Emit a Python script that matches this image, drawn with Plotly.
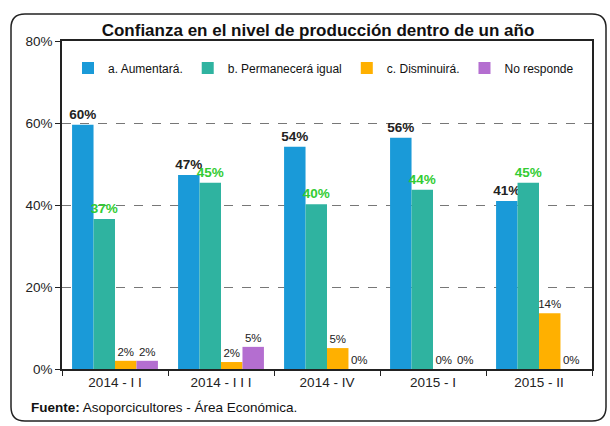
import plotly.graph_objects as go

categories = ["2014 - I I", "2014 - I I I", "2014 - IV", "2015 - I", "2015 - II"]
aumentara = [59.6, 47.3, 54.2, 56.4, 41.0]
permanecera = [36.6, 45.4, 40.2, 43.7, 45.4]
disminuira = [2.0, 1.7, 5.1, 0.0, 13.6]
no_responde = [2.0, 5.4, 0.0, 0.0, 0.0]
series_names = ["a. Aumentará.", "b. Permanecerá igual", "c. Disminuirá.", "No responde"]

W, H = 610, 426
L, R, T, B = 62, 18, 41, 57
pw, ph = W - L - R, H - T - B

def px2x(px):
    return (px - L) / pw

def py2y(py):
    return (H - B - py) / ph

fig = go.Figure()
specs = [
    (aumentara, series_names[0], "#1a9ad8", dict(size=13.5, color="#222222", family="Liberation Sans"), True),
    (permanecera, series_names[1], "#2fb3a0", dict(size=13.5, color="#33cc33", family="Liberation Sans"), True),
    (disminuira, series_names[2], "#ffb000", dict(size=11.5, color="#222222", family="Liberation Sans"), False),
    (no_responde, series_names[3], "#b46ed0", dict(size=11.5, color="#222222", family="Liberation Sans"), False),
]
for vals, name, color, tfont, bold in specs:
    tmpl = "<b>%{y:.0f}%</b>" if bold else "%{y:.0f}%"
    fig.add_trace(go.Bar(
        x=categories, y=vals, name=name,
        marker=dict(color=color, line=dict(width=0)),
        texttemplate=tmpl, textposition="outside", textfont=tfont,
        constraintext="none", cliponaxis=False,
    ))

# outer rounded border
x0, x1 = px2x(11), px2x(606)
y0, y1 = py2y(421), py2y(14)
rx, ry = 14 / pw, 14 / ph
path = (f"M {x0+rx},{y1} L {x1-rx},{y1} Q {x1},{y1} {x1},{y1-ry} "
        f"L {x1},{y0+ry} Q {x1},{y0} {x1-rx},{y0} L {x0+rx},{y0} "
        f"Q {x0},{y0} {x0},{y0+ry} L {x0},{y1-ry} Q {x0},{y1} {x0+rx},{y1} Z")
fig.add_shape(type="path", path=path, xref="paper", yref="paper",
              line=dict(color="#222222", width=1.5), layer="below")

fig.add_annotation(
    text="<b>Fuente:</b> Asoporcicultores - Área Económica.",
    x=px2x(29), y=py2y(407), xref="paper", yref="paper",
    xanchor="left", yanchor="middle", showarrow=False,
    font=dict(size=13.5, color="#111111", family="Liberation Sans"),
)

fig.update_layout(
    width=W, height=H,
    margin=dict(l=L, r=R, t=T, b=B, autoexpand=False),
    paper_bgcolor="white", plot_bgcolor="white",
    barmode="group", bargap=0.19, bargroupgap=0,
    title=dict(text="<b>Confianza en el nivel de producción dentro de un año</b>",
               x=318 / W, xanchor="center", y=1 - 30 / H, yanchor="middle",
               yref="container",
               font=dict(size=17, color="#111111", family="Liberation Sans")),
    legend=dict(orientation="h", x=px2x(68), y=py2y(68), xanchor="left", yanchor="middle",
                font=dict(size=12, color="#111111", family="Liberation Sans"),
                bgcolor="rgba(0,0,0,0)", itemwidth=30, tracegroupgap=0),
    font=dict(family="Liberation Sans", color="#222222"),
    showlegend=True,
)
fig.update_xaxes(
    showline=True, linecolor="#222222", linewidth=1.5, mirror=True,
    ticks="outside", tickson="boundaries", ticklen=5, tickcolor="#222222",
    tickfont=dict(size=13.5, color="#222222"), showgrid=False,
)
fig.update_yaxes(
    range=[0, 80], dtick=20, ticksuffix="%",
    showline=True, linecolor="#222222", linewidth=1.5, mirror=True,
    ticks="outside", ticklen=5, tickcolor="#222222",
    tickfont=dict(size=13.5, color="#222222"),
    showgrid=True, gridcolor="#777777", griddash="dash", gridwidth=1,
    zeroline=False,
)

fig.write_html("out.html", config={"displayModeBar": False},
               post_script="document.body.style.margin='0';")
